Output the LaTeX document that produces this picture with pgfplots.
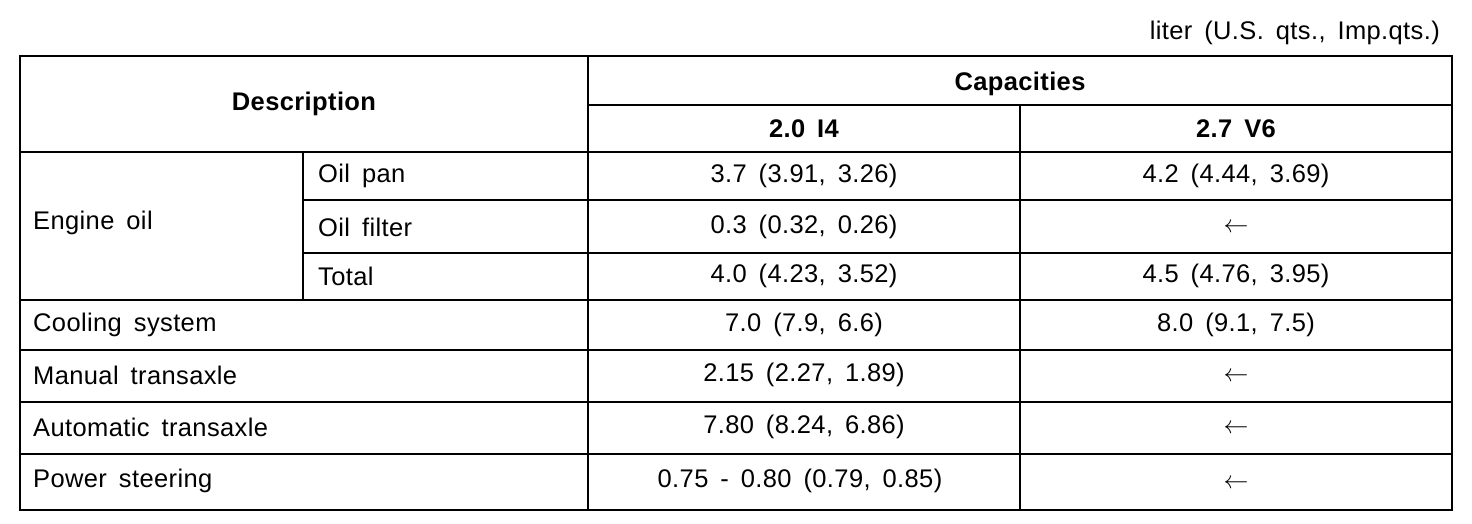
\documentclass[border=0pt]{standalone}
\usepackage{pgfplots}
\pgfplotsset{compat=1.18}
\usepackage{fontspec}
\setmainfont{Liberation Sans}[WordSpace=1.6, LetterSpace=1.5]
\newcommand\tf{\fontsize{25.5}{30}\selectfont}
\begin{document}
\begin{tikzpicture}
\begin{axis}[
  width=1472pt, height=524pt, scale only axis,
  xmin=0, xmax=1472, ymin=0, ymax=524, y dir=reverse,
  hide axis, clip=false,
]
\path (axis cs:0,0) rectangle (axis cs:1472,524);
% horizontal rules
\addplot[black, line width=2.6pt, line cap=rect] coordinates {(20,56) (1452,56)};
\addplot[black, line width=2.2pt] coordinates {(588,105) (1452,105)};
\addplot[black, line width=2.4pt] coordinates {(20,152) (1452,152)};
\addplot[black, line width=2.2pt] coordinates {(303,200) (1452,200)};
\addplot[black, line width=2.2pt] coordinates {(303,253) (1452,253)};
\addplot[black, line width=2.2pt] coordinates {(20,300) (1452,300)};
\addplot[black, line width=2.2pt] coordinates {(20,350) (1452,350)};
\addplot[black, line width=2.2pt] coordinates {(20,402) (1452,402)};
\addplot[black, line width=2.2pt] coordinates {(20,454) (1452,454)};
\addplot[black, line width=2.6pt, line cap=rect] coordinates {(20,510) (1452,510)};
% vertical rules
\addplot[black, line width=2.4pt] coordinates {(20,56) (20,510)};
\addplot[black, line width=2.0pt] coordinates {(303,152) (303,300)};
\addplot[black, line width=2.2pt] coordinates {(588,56) (588,510)};
\addplot[black, line width=2.2pt] coordinates {(1020,105) (1020,510)};
\addplot[black, line width=2.4pt] coordinates {(1452,56) (1452,510)};
% caption
\node[font=\tf, inner sep=0pt, anchor=east] at (axis cs:1440,33) {liter (U.S. qts., Imp.qts.)};
% headers
\node[font=\tf\bfseries, inner sep=0pt] at (axis cs:304,104) {Description};
\node[font=\tf\bfseries, inner sep=0pt] at (axis cs:1020,84) {Capacities};
\node[font=\tf\bfseries, inner sep=0pt] at (axis cs:804,129) {2.0 I4};
\node[font=\tf\bfseries, inner sep=0pt] at (axis cs:1236,129) {2.7 V6};
% left column
\node[font=\tf, inner sep=0pt, anchor=west] at (axis cs:33,223) {Engine oil};
\node[font=\tf, inner sep=0pt, anchor=west] at (axis cs:318,176) {Oil pan};
\node[font=\tf, inner sep=0pt, anchor=west] at (axis cs:318,227) {Oil filter};
\node[font=\tf, inner sep=0pt, anchor=west] at (axis cs:318,276) {Total};
\node[font=\tf, inner sep=0pt, anchor=west] at (axis cs:33,325) {Cooling system};
\node[font=\tf, inner sep=0pt, anchor=west] at (axis cs:33,375) {Manual transaxle};
\node[font=\tf, inner sep=0pt, anchor=west] at (axis cs:33,427) {Automatic transaxle};
\node[font=\tf, inner sep=0pt, anchor=west] at (axis cs:33,481) {Power steering};
% 2.0 I4 values
\node[font=\tf, inner sep=0pt] at (axis cs:804,176) {3.7 (3.91, 3.26)};
\node[font=\tf, inner sep=0pt] at (axis cs:804,227) {0.3 (0.32, 0.26)};
\node[font=\tf, inner sep=0pt] at (axis cs:804,276) {4.0 (4.23, 3.52)};
\node[font=\tf, inner sep=0pt] at (axis cs:804,325) {7.0 (7.9, 6.6)};
\node[font=\tf, inner sep=0pt] at (axis cs:804,375) {2.15 (2.27, 1.89)};
\node[font=\tf, inner sep=0pt] at (axis cs:804,427) {7.80 (8.24, 6.86)};
\node[font=\tf, inner sep=0pt] at (axis cs:800,481) {0.75 - 0.80 (0.79, 0.85)};
% 2.7 V6 values
\node[font=\tf, inner sep=0pt] at (axis cs:1236,176) {4.2 (4.44, 3.69)};
\node[font=\tf, inner sep=0pt] at (axis cs:1236,228) {$\leftarrow$};
\node[font=\tf, inner sep=0pt] at (axis cs:1236,276) {4.5 (4.76, 3.95)};
\node[font=\tf, inner sep=0pt] at (axis cs:1236,325) {8.0 (9.1, 7.5)};
\node[font=\tf, inner sep=0pt] at (axis cs:1236,377) {$\leftarrow$};
\node[font=\tf, inner sep=0pt] at (axis cs:1236,429) {$\leftarrow$};
\node[font=\tf, inner sep=0pt] at (axis cs:1236,484) {$\leftarrow$};
\end{axis}
\end{tikzpicture}
\end{document}
